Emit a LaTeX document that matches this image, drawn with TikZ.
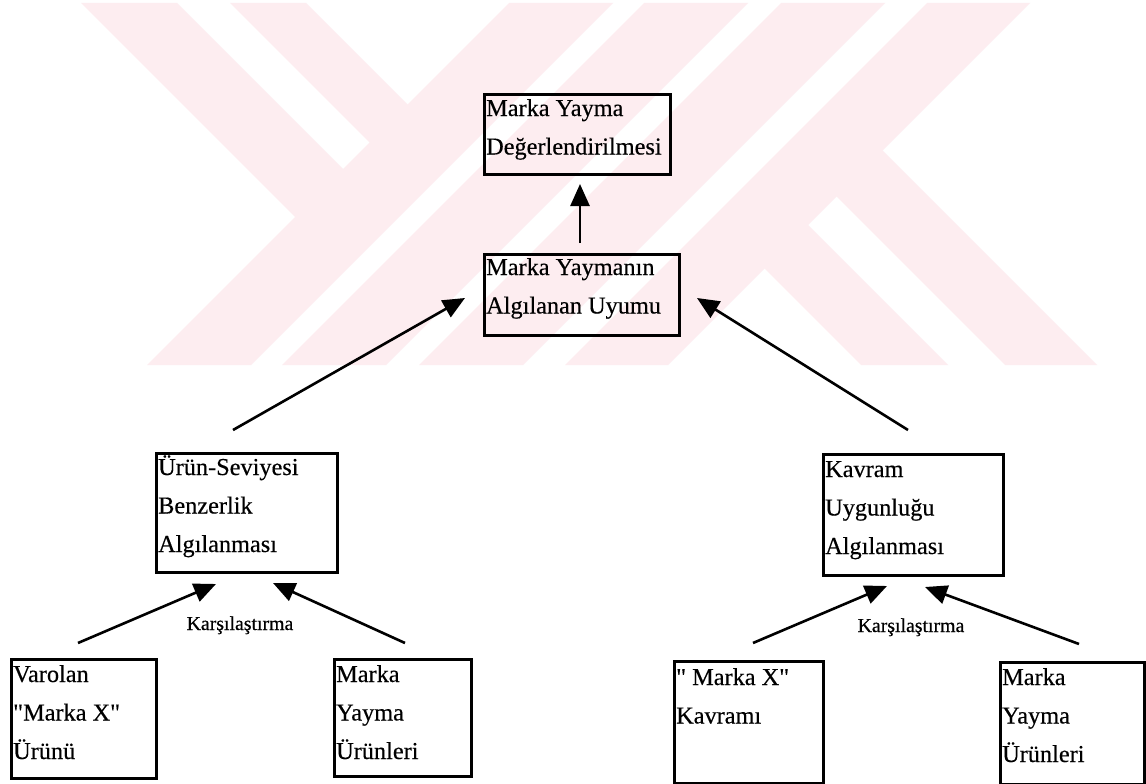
\documentclass[tikz,border=0pt]{standalone}
\usepackage{fontspec}
\setmainfont[FakeBold=0.4,Ligatures=TeXOff]{Liberation Serif}
\usetikzlibrary{arrows.meta}
\definecolor{wm}{RGB}{253,237,240}
\begin{document}
\begin{tikzpicture}[x=1pt,y=-1pt,
  boxst/.style={draw=black, line width=2.5pt, inner sep=0pt, anchor=north west},
  txt/.style={anchor=base west, inner sep=0pt, font=\fontsize{24.3}{38.5}\selectfont},
  lbl/.style={anchor=base, inner sep=0pt, font=\fontsize{19.8}{24}\selectfont},
  arr/.style={line width=2.6pt, -{Triangle[length=22pt,width=19pt]}}]
\fill[white] (0,0) rectangle (1146,784);
\useasboundingbox (0,0) rectangle (1146,784);
% watermark
\fill[wm] (81,3) -- (177,3) -- (367,193) -- (319,241) -- cycle;
\fill[wm] (230,3) -- (306,3) -- (431.5,128.5) -- (393.5,166.5) -- cycle;
\fill[wm] (509,3) -- (613,3) -- (251,365) -- (147,365) -- cycle;
\fill[wm] (644,3) -- (748,3) -- (386,365) -- (282,365) -- cycle;
\fill[wm] (781,3) -- (885,3) -- (523,365) -- (419,365) -- cycle;
\fill[wm] (927,3) -- (1030,3) -- (668,365) -- (565,365) -- cycle;
\fill[wm] (738,242) -- (781.5,198.5) -- (948,365) -- (861,365) -- cycle;
\fill[wm] (810,170) -- (856,124) -- (1097,365) -- (1005,365) -- cycle;
% boxes
\node[boxst, minimum width=186pt, minimum height=80pt] (b1) at (483,93) {};
\node[boxst, minimum width=195pt, minimum height=81pt] (b2) at (483,253) {};
\node[boxst, minimum width=181pt, minimum height=119pt] (b3) at (155,452) {};
\node[boxst, minimum width=180pt, minimum height=121pt] (b4) at (822,453) {};
\node[boxst, minimum width=145pt, minimum height=119pt] (b5) at (10,658) {};
\node[boxst, minimum width=137pt, minimum height=117pt] (b6) at (333,658) {};
\node[boxst, minimum width=149pt, minimum height=122pt] (b7) at (673,660) {};
\node[boxst, minimum width=144pt, minimum height=122pt] (b8) at (999,661) {};
% texts
\node[txt] (t1) at (486,116) {\begin{tabular}[t]{@{}l@{}}Marka Yayma\\Değerlendirilmesi\end{tabular}};
\node[txt] (t2) at (486,275) {\begin{tabular}[t]{@{}l@{}}Marka Yaymanın\\Algılanan Uyumu\end{tabular}};
\node[txt] (t3) at (158,475) {\begin{tabular}[t]{@{}l@{}}Ürün-Seviyesi\\Benzerlik\\Algılanması\end{tabular}};
\node[txt] (t4) at (825,477) {\begin{tabular}[t]{@{}l@{}}Kavram\\Uygunluğu\\Algılanması\end{tabular}};
\node[txt] (t5) at (13,682) {\begin{tabular}[t]{@{}l@{}}Varolan\\"Marka X"\\Ürünü\end{tabular}};
\node[txt] (t6) at (336,682) {\begin{tabular}[t]{@{}l@{}}Marka\\Yayma\\Ürünleri\end{tabular}};
\node[txt] (t7) at (676,685) {\begin{tabular}[t]{@{}l@{}}" Marka X"\\Kavramı\end{tabular}};
\node[txt] (t8) at (1002,685) {\begin{tabular}[t]{@{}l@{}}Marka\\Yayma\\Ürünleri\end{tabular}};
\node[lbl] (k1) at (240,630) {Karşılaştırma};
\node[lbl] (k2) at (911,632) {Karşılaştırma};
% connector end points
\coordinate (a0s) at (580,243);
\coordinate (a0e) at (580,184);
\coordinate (a1s) at (233,430);
\coordinate (a1e) at (465,298);
\coordinate (a2s) at (908,430);
\coordinate (a2e) at (697,298);
\coordinate (a3s) at (78,643);
\coordinate (a3e) at (216,584);
\coordinate (a4s) at (405,643);
\coordinate (a4e) at (273,583);
\coordinate (a5s) at (753,643);
\coordinate (a5e) at (887,586);
\coordinate (a6s) at (1079,644);
\coordinate (a6e) at (925,587);
\draw[arr] (a0s) -- (a0e);
\draw[arr] (a1s) -- (a1e);
\draw[arr] (a2s) -- (a2e);
\draw[arr] (a3s) -- (a3e);
\draw[arr] (a4s) -- (a4e);
\draw[arr] (a5s) -- (a5e);
\draw[arr] (a6s) -- (a6e);
\end{tikzpicture}
\end{document}
